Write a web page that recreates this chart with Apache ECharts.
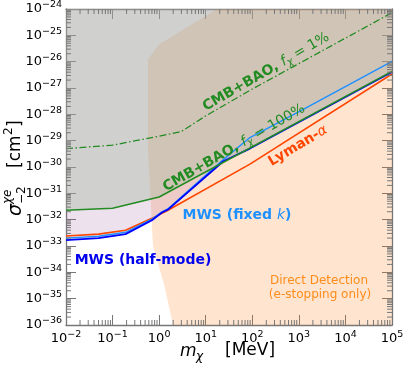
<!DOCTYPE html>
<html><head><meta charset="utf-8">
<script src="https://cdn.jsdelivr.net/npm/echarts@6/dist/echarts.min.js"></script>
<style>html,body{margin:0;padding:0;background:#fff}#c{width:407px;height:368px}</style>
</head><body><div id="c"></div>
<script>
const FONT = "'DejaVu Sans', sans-serif";

// ---- data (mass in MeV, cross-section as log10 of cm^2) ----
const cmb100Mass = [0.01, 0.1, 1, 1e5];
const cmb100LogSigma = [-31.64, -31.57, -31.14, -26.37];

const cmb1Mass = [0.01, 0.1, 1, 3, 10, 100, 1e5];
const cmb1LogSigma = [-29.30, -29.17, -28.83, -28.65, -28.06, -27.04, -24.14];

const lymanMass = [0.01, 0.05, 0.19, 0.7, 1.45, 89, 1e5];
const lymanLogSigma = [-32.62, -32.55, -32.40, -31.95, -31.67, -29.89, -26.47];

const mwsHalfMass = [0.01, 0.05, 0.19, 0.7, 1.15, 1.57, 23.9, 89, 1e5];
const mwsHalfLogSigma = [-32.78, -32.70, -32.55, -32.02, -31.73, -31.61, -29.78, -29.30, -26.39];

const mwsFixedMass = [0.01, 0.05, 0.19, 0.7, 1.15, 1.57, 23.9, 89, 1060, 1e5];
const mwsFixedLogSigma = [-32.70, -32.63, -32.48, -31.98, -31.70, -31.58, -29.72, -28.88, -27.88, -25.99];

// Direct detection (e-stopping only) excluded region outline
const ddMass = [17.5, 1.0, 0.577, 0.577, 0.637, 0.738, 1.27, 1.99, 1e5, 1e5];
const ddLogSigma = [-24, -25.34, -25.91, -29.40, -30.80, -33.0, -34.44, -36, -36, -24];

const xTickExponents = [-2, -1, 0, 1, 2, 3, 4, 5];
const yTickExponents = [-36, -35, -34, -33, -32, -31, -30, -29, -28, -27, -26, -25, -24];

// y axis works in units of 1e-36 cm^2 (ECharts log scale cannot handle 1e-36 directly)
const Y_UNIT_EXP = -36;
const X_MIN = 1e-2, X_MAX = 1e5;
const Y_MIN = Math.pow(10, -36 - Y_UNIT_EXP), Y_MAX = Math.pow(10, -24 - Y_UNIT_EXP);

function yVal(logSigma) { return Math.pow(10, logSigma - Y_UNIT_EXP); }
function pairs(m, ls) { return m.map((v, i) => [v, yVal(ls[i])]); }
function expText(e) { return '{b|10}{s|' + (e < 0 ? '\u2212' : '') + Math.abs(e) + '}'; }
function xLabel(v) {
  const e = Math.round(Math.log10(v));
  return xTickExponents.indexOf(e) < 0 ? '' : expText(e);
}
function yLabel(v) {
  const e = Math.round(Math.log10(v)) + Y_UNIT_EXP;
  return yTickExponents.indexOf(e) < 0 ? '' : expText(e);
}
const tickRich = {
  b: {fontSize: 13, fontFamily: FONT, color: '#000'},
  s: {fontSize: 9.5, fontFamily: FONT, color: '#000', padding: [0, 0, 8, 0]}
};

const chart = echarts.init(document.getElementById('c'), null, {renderer: 'canvas'});

const GREEN = '#228b22', RED = '#ff4500', BLUE = '#0000ff', LBLUE = '#1e90ff';
const AXC = '#777';

function minorTicks(params, api) {
  const p0 = api.coord([X_MIN, Y_MIN]);
  const p1 = api.coord([X_MAX, Y_MAX]);
  const left = p0[0], bottom = p0[1], right = p1[0], top = p1[1];
  const ch = [];
  const st = {stroke: AXC, lineWidth: 1};
  for (let n = -2; n < 5; n++) {
    for (let k = 2; k <= 9; k++) {
      const x = api.coord([k * Math.pow(10, n), Y_MIN])[0];
      ch.push({type: 'line', shape: {x1: x, y1: bottom, x2: x, y2: bottom - 5}, style: st});
      ch.push({type: 'line', shape: {x1: x, y1: top, x2: x, y2: top + 5}, style: st});
    }
  }
  for (let n = 0; n < 12; n++) {
    for (let k = 2; k <= 9; k++) {
      const y = api.coord([X_MIN, k * Math.pow(10, n)])[1];
      ch.push({type: 'line', shape: {x1: left, y1: y, x2: left + 5, y2: y}, style: st});
      ch.push({type: 'line', shape: {x1: right, y1: y, x2: right - 5, y2: y}, style: st});
    }
  }
  return {type: 'group', children: ch};
}

function ddPolygon(params, api) {
  const pts = ddMass.map((m, i) => api.coord([m, yVal(ddLogSigma[i])]));
  return {type: 'polygon', shape: {points: pts}, style: {fill: 'rgba(255,127,14,0.2)'}};
}

const axisCommon = {
  type: 'log', logBase: 10, interval: 1,
  axisLine: {show: true, onZero: false, lineStyle: {color: AXC, width: 1.3}},
  axisTick: {show: true, inside: true, length: 10, lineStyle: {color: AXC, width: 1}},
  splitLine: {show: false}, minorTick: {show: false}
};

const option = {
  animation: false,
  backgroundColor: '#fff',
  grid: {left: 66, right: 15, top: 7.5, bottom: 43, containLabel: false},
  xAxis: [
    Object.assign({}, axisCommon, {min: X_MIN, max: X_MAX, position: 'bottom',
      axisLabel: {show: true, margin: 5, showMinLabel: true, showMaxLabel: true, hideOverlap: false,
        formatter: xLabel, rich: tickRich}}),
    Object.assign({}, axisCommon, {min: X_MIN, max: X_MAX, position: 'top', axisLabel: {show: false}})
  ],
  yAxis: [
    Object.assign({}, axisCommon, {min: Y_MIN, max: Y_MAX, position: 'left',
      axisLabel: {show: true, margin: 4, showMinLabel: true, showMaxLabel: true, hideOverlap: false,
        formatter: yLabel, rich: tickRich}}),
    Object.assign({}, axisCommon, {min: Y_MIN, max: Y_MAX, position: 'right', axisLabel: {show: false}})
  ],
  series: [
    {type: 'custom', renderItem: ddPolygon, data: [[1, 1e6]], z: 1, silent: true},
    {type: 'line', data: pairs(mwsHalfMass, mwsHalfLogSigma), symbol: 'none', z: 2, silent: true,
      lineStyle: {width: 0}, areaStyle: {origin: 'end', color: 'rgba(160,90,160,0.26)'}},
    {type: 'line', data: pairs(cmb100Mass, cmb100LogSigma), symbol: 'none', z: 3, silent: true,
      lineStyle: {width: 0}, areaStyle: {origin: 'end', color: 'rgba(167,187,163,0.6)'}},
    {type: 'line', data: pairs(cmb1Mass, cmb1LogSigma), symbol: 'none', z: 5, silent: true,
      lineStyle: {color: GREEN, width: 1.3, type: [7, 2.5, 1.5, 2.5]}},
    {type: 'line', data: pairs(lymanMass, lymanLogSigma), symbol: 'none', z: 5, silent: true,
      lineStyle: {color: RED, width: 1.6}},
    {type: 'line', data: pairs(mwsFixedMass, mwsFixedLogSigma), symbol: 'none', z: 5, silent: true,
      lineStyle: {color: LBLUE, width: 1.4}},
    {type: 'line', data: pairs(mwsHalfMass, mwsHalfLogSigma), symbol: 'none', z: 6, silent: true,
      lineStyle: {color: BLUE, width: 1.8}},
    {type: 'line', data: pairs(cmb100Mass, cmb100LogSigma), symbol: 'none', z: 6, silent: true,
      lineStyle: {color: GREEN, width: 1.5}},
    {type: 'custom', renderItem: minorTicks, data: [[1, 1e6]], z: 10, silent: true, clip: false}
  ],
  graphic: [
    {type: 'text', x: 266, y: 72, rotation: 30 * Math.PI / 180, z: 100, style: {
      text: '{b|CMB+BAO, }{f|f}{c|\u03c7}{n| = 1%}', align: 'center', verticalAlign: 'middle',
      rich: {
        b: {fontSize: 14, fontWeight: 'bold', fontFamily: FONT, fill: GREEN, color: GREEN},
        f: {fontSize: 14, fontStyle: 'italic', fontFamily: FONT, fill: GREEN, color: GREEN},
        c: {fontSize: 10, fontStyle: 'italic', fontFamily: FONT, fill: GREEN, color: GREEN, padding: [7, 0, 0, 0]},
        n: {fontSize: 14, fontFamily: FONT, fill: GREEN, color: GREEN}
      }}},
    {type: 'text', x: 234, y: 148, rotation: 30 * Math.PI / 180, z: 100, style: {
      text: '{b|CMB+BAO, }{f|f}{c|\u03c7}{n| = 100%}', align: 'center', verticalAlign: 'middle',
      rich: {
        b: {fontSize: 14, fontWeight: 'bold', fontFamily: FONT, fill: GREEN, color: GREEN},
        f: {fontSize: 14, fontStyle: 'italic', fontFamily: FONT, fill: GREEN, color: GREEN},
        c: {fontSize: 10, fontStyle: 'italic', fontFamily: FONT, fill: GREEN, color: GREEN, padding: [7, 0, 0, 0]},
        n: {fontSize: 14, fontFamily: FONT, fill: GREEN, color: GREEN}
      }}},
    {type: 'text', x: 298, y: 146, rotation: 31 * Math.PI / 180, z: 100, style: {
      text: '{b|Lyman-}{a|\u03b1}', align: 'center', verticalAlign: 'middle',
      rich: {
        b: {fontSize: 14, fontWeight: 'bold', fontFamily: FONT, fill: RED, color: RED},
        a: {fontSize: 14, fontStyle: 'italic', fontFamily: FONT, fill: RED, color: RED}
      }}},
    {type: 'text', x: 237, y: 215, z: 100, style: {
      text: '{b|MWS (fixed }{k|k}{b|)}', align: 'center', verticalAlign: 'middle',
      rich: {
        b: {fontSize: 14, fontWeight: 'bold', fontFamily: FONT, fill: LBLUE, color: LBLUE},
        k: {fontSize: 14, fontStyle: 'italic', fontFamily: FONT, fill: LBLUE, color: LBLUE}
      }}},
    {type: 'text', x: 143, y: 260, z: 100, style: {
      text: 'MWS (half-mode)', align: 'center', verticalAlign: 'middle',
      font: 'bold 14px ' + FONT, fill: '#0000ee'}},
    {type: 'text', x: 319, y: 281, z: 100, style: {
      text: 'Direct Detection', align: 'center', verticalAlign: 'middle',
      font: '12px ' + FONT, fill: '#ff8c1a'}},
    {type: 'text', x: 320, y: 295, z: 100, style: {
      text: '(e-stopping only)', align: 'center', verticalAlign: 'middle',
      font: '12px ' + FONT, fill: '#ff8c1a'}},
    // x-axis title
    {type: 'text', x: 180, y: 352, z: 100, style: {
      text: 'm', align: 'left', verticalAlign: 'middle', font: 'italic 17px ' + FONT, fill: '#000'}},
    {type: 'text', x: 196, y: 357, z: 100, style: {
      text: '\u03c7', align: 'left', verticalAlign: 'middle', font: 'italic 12px ' + FONT, fill: '#000'}},
    {type: 'text', x: 225, y: 351, z: 100, style: {
      text: '[MeV]', align: 'left', verticalAlign: 'middle', font: '17px ' + FONT, fill: '#000'}},
    // y-axis title
    {type: 'group', x: 16, y: 216, rotation: Math.PI / 2, z: 100, children: [
      {type: 'text', x: 0, y: 0, style: {text: '\u03c3', align: 'left', verticalAlign: 'middle', font: 'italic 19px ' + FONT, fill: '#000'}},
      {type: 'text', x: 12, y: -8, style: {text: '\u03c7e', align: 'left', verticalAlign: 'middle', font: 'italic 12px ' + FONT, fill: '#000'}},
      {type: 'text', x: 12, y: 6, style: {text: '\u22122', align: 'left', verticalAlign: 'middle', font: '12px ' + FONT, fill: '#000'}},
      {type: 'text', x: 48, y: 0, style: {text: '[cm', align: 'left', verticalAlign: 'middle', font: '17px ' + FONT, fill: '#000'}},
      {type: 'text', x: 81, y: -7, style: {text: '2', align: 'left', verticalAlign: 'middle', font: '12px ' + FONT, fill: '#000'}},
      {type: 'text', x: 89, y: 0, style: {text: ']', align: 'left', verticalAlign: 'middle', font: '17px ' + FONT, fill: '#000'}}
    ]}
  ]
};
chart.setOption(option);
</script></body></html>
